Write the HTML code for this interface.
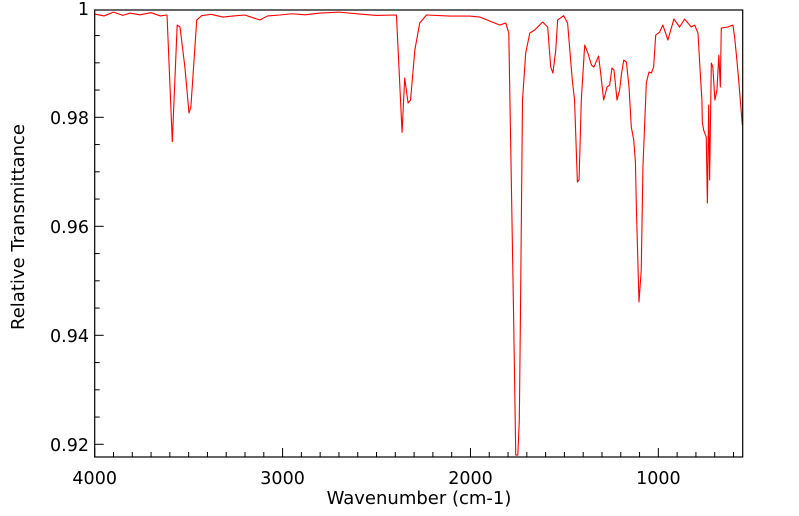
<!DOCTYPE html>
<html><head><meta charset="utf-8"><style>
body{margin:0;background:#fff;}
svg{display:block;font-family:"DejaVu Sans","Liberation Sans",sans-serif;}
</style></head><body>
<svg id="chart" width="799" height="516" viewBox="0 0 799 516" xmlns="http://www.w3.org/2000/svg">
<g id="axes"></g>
<path id="series" fill="none" stroke="#ff0000" stroke-width="1.1" stroke-linejoin="round"/>
<rect x="94.7" y="10" width="648" height="447" fill="none" stroke="#000" stroke-width="1.2"/>
<text x="419" y="504" font-size="18" text-anchor="middle">Wavenumber (cm-1)</text>
<text transform="translate(24,227) rotate(-90)" font-size="18" text-anchor="middle">Relative Transmittance</text>
</svg>
<script>
const wavenumbers=[4000,3950,3900,3850,3812,3760,3700,3650,3615,3587,3561,3546,3520,3498,3488,3457,3431,3380,3318,3260,3201,3160,3121,3080,3014,2950,2880,2801,2700,2589,2500,2394,2364,2350,2332,2319,2296,2270,2234,2110,2004,1951,1845,1812,1796,1782,1770,1759,1748,1740,1734,1723,1706,1684,1658,1616,1589,1573,1561,1546,1536,1504,1483,1458,1446,1431,1422,1410,1392,1375,1356,1343,1318,1307,1291,1273,1259,1247,1236,1220,1206,1197,1184,1170,1156,1144,1131,1122,1117,1103,1091,1082,1064,1050,1037,1025,1014,993,976,949,931,917,887,860,825,807,789,777,768,766,759,745,739,732,727,718,710,699,688,678,670,665,630,603,594,582,571,553];
const transmittance=[0.99895,0.99860,0.99930,0.99870,0.99913,0.99880,0.99920,0.99860,0.99877,0.97552,0.99693,0.99657,0.98923,0.98079,0.98189,0.99785,0.99864,0.99890,0.9984,0.99860,0.99877,0.99830,0.99785,0.99860,0.99877,0.99900,0.99880,0.99913,0.99930,0.99895,0.99870,0.99877,0.97724,0.98721,0.98262,0.98317,0.99235,0.9973,0.99877,0.99858,0.99858,0.9984,0.99693,0.9973,0.99547,0.96721,0.9428,0.91803,0.91803,0.92446,0.94354,0.98317,0.99179,0.99547,0.99602,0.99748,0.99657,0.98923,0.98813,0.99235,0.99785,0.99864,0.9973,0.98684,0.98317,0.96813,0.9685,0.98317,0.99326,0.99179,0.98959,0.98923,0.99124,0.98813,0.98317,0.98556,0.98592,0.98904,0.98868,0.98317,0.98501,0.98776,0.99051,0.99014,0.98556,0.97822,0.97583,0.9718,0.96354,0.94611,0.95198,0.97088,0.98629,0.98831,0.98813,0.98923,0.9951,0.99565,0.99693,0.99418,0.99638,0.99803,0.99657,0.99803,0.99657,0.99693,0.99547,0.98813,0.98317,0.97914,0.97767,0.97638,0.96427,0.98225,0.9685,0.98996,0.98923,0.98317,0.98501,0.99143,0.98556,0.99638,0.99657,0.99693,0.99473,0.99051,0.98629,0.97859];
const xTickLabels=["4000","3000","2000","1000"];
const xTickValues=[4000,3000,2000,1000];
const yTickLabels=["0.92","0.94","0.96","0.98","1"];
const yTickValues=[0.92,0.94,0.96,0.98,1.0];

const X0=94.7,X1=742.7,Y0=457,Y1=10;
const W0=4000,W1=551,V0=0.91767,V1=0.99969;
function xs(w){return X0+(W0-w)/(W0-W1)*(X1-X0);}
function ys(v){return Y0-(v-V0)/(V1-V0)*(Y0-Y1);}
const NS="http://www.w3.org/2000/svg";
const axes=document.getElementById('axes');
function mk(t,a){const e=document.createElementNS(NS,t);for(const k in a)e.setAttribute(k,a[k]);axes.appendChild(e);return e;}
for(let w=4000;w>=W1;w-=100){
  const major=w%1000===0;const x=xs(w);
  const t=mk('line',{x1:x,x2:x,y1:Y0,y2:Y0-(major?9:5),stroke:'#000','stroke-width':1});
  
  
}
xTickValues.forEach((w,i)=>{
  const t=mk('text',{x:xs(w),y:484,'font-size':17.5,'text-anchor':'middle'});
  t.textContent=xTickLabels[i];
  
  
});
for(let k=0;k<=16;k++){
  const v=0.92+k*0.005;if(ys(v)<Y1-0.5)break;
  const major=k%4===0;const y=ys(v);
  const t=mk('line',{x1:X0,x2:X0+(major?9:5),y1:y,y2:y,stroke:'#000','stroke-width':1});
  
  
}
yTickValues.forEach((v,i)=>{
  const t=mk('text',{x:89,y:ys(v)+6.5,'font-size':17.5,'text-anchor':'end'});
  t.textContent=yTickLabels[i];
  
  
});
let d='';
wavenumbers.forEach((w,i)=>{d+=(i?'L':'M')+xs(w).toFixed(2)+' '+ys(transmittance[i]).toFixed(2);});
document.getElementById('series').setAttribute('d',d);
</script>
</body></html>
